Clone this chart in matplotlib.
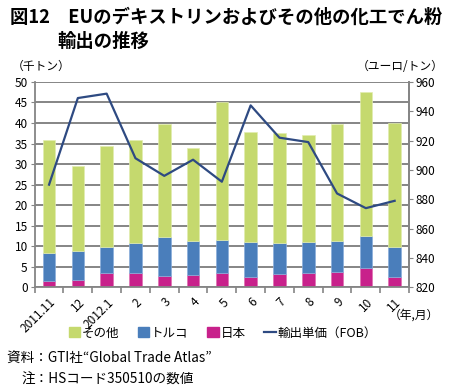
import matplotlib.pyplot as plt
import numpy as np
from matplotlib.patches import Patch
from matplotlib.lines import Line2D

plt.rcParams['font.family'] = ['Noto Sans CJK JP', 'DejaVu Sans']

months = ['2011.11', '12', '2012.1', '2', '3', '4', '5', '6', '7', '8', '9', '10', '11']
japan = [1.6, 1.9, 3.6, 3.4, 2.9, 3.0, 3.6, 2.6, 3.2, 3.4, 3.7, 4.8, 2.6]
turkey = [6.8, 7.0, 6.3, 7.5, 9.3, 8.3, 7.9, 8.4, 7.7, 7.6, 7.6, 7.8, 7.3]
other = [27.4, 20.6, 24.5, 24.9, 27.6, 22.7, 33.5, 26.8, 26.7, 26.2, 28.4, 34.9, 30.1]
price = [890, 949, 952, 908, 896, 907, 892, 944, 922, 919, 884, 874, 879]

c_other = '#c5d96e'
c_turkey = '#4a7ebb'
c_japan = '#c8218b'
c_line = '#2e4a82'
grey = '#858585'

fig = plt.figure(figsize=(4.5, 3.9), dpi=100)
ax = fig.add_axes([0.077, 0.263, 0.832, 0.527])
ax2 = ax.twinx()

x = np.arange(len(months))
w = 0.44
jp = np.array(japan)
tk = np.array(turkey)
ot = np.array(other)
ax.bar(x, jp, w, color=c_japan, edgecolor='#e070b0', linewidth=0.5, zorder=2)
ax.bar(x, tk, w, bottom=jp, color=c_turkey, edgecolor='#8aaedb', linewidth=0.5, zorder=2)
ax.bar(x, ot, w, bottom=jp + tk, color=c_other, edgecolor='#e2edb0', linewidth=0.5, zorder=2)
ax2.plot(x, price, color=c_line, lw=1.6)

ax.set_xlim(-0.5, len(months) - 0.5)
ax.set_ylim(0, 50)
ax.set_yticks(range(0, 51, 5))
ax2.set_ylim(820, 960)
ax2.set_yticks(range(820, 961, 20))

ax.grid(axis='y', color=grey, lw=1.4, zorder=0)
ax.set_axisbelow(True)

for a in (ax, ax2):
    a.spines['top'].set_visible(False)
    for s in ('left', 'right', 'bottom'):
        a.spines[s].set_color(grey)
        a.spines[s].set_linewidth(1.3)
ax2.spines['left'].set_visible(False)
ax2.spines['bottom'].set_visible(False)

ax.set_xticks(x)
ax.set_xticklabels(months, rotation=45, ha='right', va='top', rotation_mode='anchor', fontsize=8.5)
ax.set_xticks(np.arange(-0.5, len(months), 1), minor=True)
ax.tick_params(axis='x', which='major', length=0, pad=6)
ax.tick_params(axis='x', which='minor', length=4, color=grey, width=1.2)
ax.tick_params(axis='y', length=3, color=grey, labelsize=8.5, pad=2)
ax2.tick_params(axis='y', length=3, color=grey, labelsize=8.5, pad=2)

fig.text(0.025, 0.82, '（千トン）', fontsize=8.5)
fig.text(0.985, 0.82, '（ユーロ/トン）', fontsize=8.5, ha='right')
fig.text(0.975, 0.182, '（年,月）', fontsize=8.5, ha='right')

handles = [Patch(color=c_other), Patch(color=c_turkey), Patch(color=c_japan),
           Line2D([], [], color=c_line, lw=1.6)]
labels = ['その他', 'トルコ', '日本', '輸出単価（FOB）']
fig.legend(handles, labels, loc='center', bbox_to_anchor=(0.495, 0.146), ncol=4,
           frameon=False, fontsize=9, handlelength=0.9, handleheight=0.9,
           handletextpad=0.15, columnspacing=1.5)

fig.text(0.022, 0.955, '図12　EUのデキストリンおよびその他の化工でん粉', fontsize=13.2,
         fontweight='bold', va='center')
fig.text(0.127, 0.895, '輸出の推移', fontsize=13.2, fontweight='bold', va='center')
fig.text(0.015, 0.082, '資料：GTI社“Global Trade Atlas”', fontsize=9.8, va='center')
fig.text(0.048, 0.027, '注：HSコード350510の数値', fontsize=9.8, va='center')

fig.savefig('out.png', dpi=100)
